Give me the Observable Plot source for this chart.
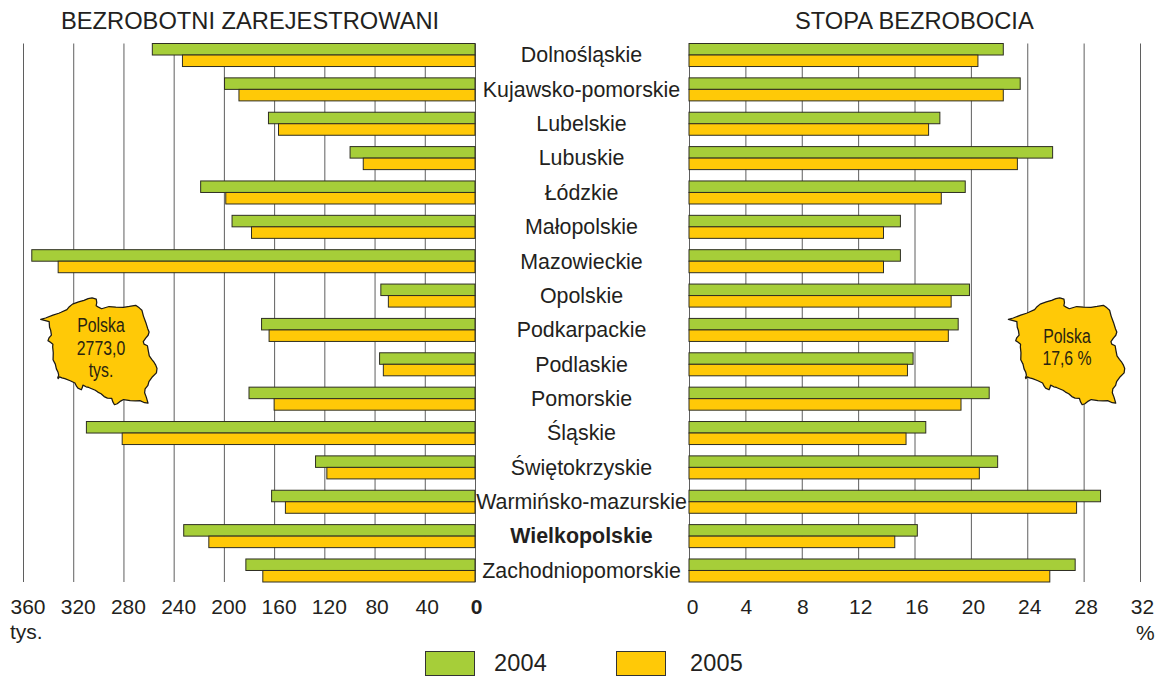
<!DOCTYPE html>
<html><head><meta charset="utf-8">
<script src="https://cdn.jsdelivr.net/npm/d3@7"></script>
<script src="https://cdn.jsdelivr.net/npm/@observablehq/plot@0.6"></script>
<style>
html,body{margin:0;padding:0;background:#fff;}
#page{position:relative;width:1158px;height:676px;overflow:hidden;font-family:"Liberation Sans",Arial,sans-serif;color:#231f20;}
.t{position:absolute;white-space:nowrap;font-size:21px;line-height:24px;}
.sw{position:absolute;top:651px;width:50px;height:25px;border:1px solid #333;box-sizing:border-box;}
.narrow{position:absolute;white-space:nowrap;text-align:center;font-family:"Liberation Sans",sans-serif;font-size:20px;line-height:22.5px;color:#2a2410;transform:translateX(-50%) scaleX(.79);}
</style></head><body><div id="page"></div>
<script>
const regions = ["Dolnośląskie","Kujawsko-pomorskie","Lubelskie","Lubuskie","Łódzkie","Małopolskie","Mazowieckie","Opolskie","Podkarpackie","Podlaskie","Pomorskie","Śląskie","Świętokrzyskie","Warmińsko-mazurskie","Wielkopolskie","Zachodniopomorskie"];
const years = ["2004","2005"];
const unemployed2004 = [257,199.5,164.5,99.5,218.5,193.5,353,75,170,76,180,309.5,127,162,232,182.5];
const unemployed2005 = [233,188,156.5,89,198.5,178,332,69,164,73,160,281,118,151,212,169];
const rate2004 = [22.3,23.5,17.8,25.8,19.6,15.0,15.0,19.9,19.1,15.9,21.3,16.8,21.9,29.2,16.2,27.4];
const rate2005 = [20.5,22.3,17.0,23.3,17.9,13.8,13.8,18.6,18.4,15.5,19.3,15.4,20.6,27.5,14.6,25.6];
const countTicks = [360,320,280,240,200,160,120,80,40,0];
const rateTicks = [0,4,8,12,16,20,24,28,32];
const colors = ["#a6ce39","#ffc907"];
const highlighted = "Wielkopolskie";
const barShare = 0.335; // each bar's share of a row

const long = (a,b) => regions.flatMap((region,i)=>[
  {region,year:years[0],value:a[i],row:i,slot:0},
  {region,year:years[1],value:b[i],row:i,slot:1}
]);
const rowCentre = r => regions.indexOf(r)+barShare;

const shared = {
  height:620, marginTop:43.5, marginBottom:38,
  y:{domain:[0,regions.length-1+2*barShare],axis:null,reverse:true},
  color:{domain:years,range:colors},
  style:{fontFamily:"'Liberation Sans',Arial,sans-serif",background:"transparent",overflow:"visible"}
};
const tickAxis = (ticks,dx,fontWeight="normal") =>
  Plot.axisX({ticks,label:null,tickSize:0,tickPadding:17,fontSize:21,fontWeight,fill:"#231f20",dx,tickFormat:d=>String(d)});
const panelMarks = (rows,ticks,axes)=>[
  Plot.ruleX(ticks,{stroke:"#5f5f5f",strokeWidth:1}),
  Plot.rectX(rows,{x1:()=>0,x2:"value",
    y1:d=>d.row+d.slot*barShare,y2:d=>d.row+(d.slot+1)*barShare,
    fill:"year",stroke:"#2e2e22",strokeWidth:1}),
  ...axes
];

const left = Plot.plot({...shared,width:490,marginLeft:23,marginRight:15,
  x:{domain:[360,0],axis:null},
  marks:panelMarks(long(unemployed2004,unemployed2005),countTicks,[
    tickAxis(countTicks.filter(d=>d>=120),4.5),
    tickAxis(countTicks.filter(d=>d>0&&d<120),2),
    tickAxis([0],1,"bold")
  ])});
left.style.left="0px";

const center = Plot.plot({...shared,width:212,marginLeft:0,marginRight:0,
  x:{domain:[0,1],axis:null},
  marks:[
    Plot.text(regions,{y:rowCentre,text:d=>d,frameAnchor:"middle",fontSize:21.4,fill:"#231f20",filter:d=>d!==highlighted}),
    Plot.text(regions,{y:rowCentre,text:d=>d,frameAnchor:"middle",fontSize:21.4,fontWeight:"bold",fill:"#231f20",filter:d=>d===highlighted})
  ]});
center.style.left="475px";

const right = Plot.plot({...shared,width:479,marginLeft:10,marginRight:18,
  x:{domain:[0,32],axis:null},
  marks:panelMarks(long(rate2004,rate2005),rateTicks,[
    tickAxis([0],3),
    tickAxis([4,8],0.5),
    tickAxis(rateTicks.filter(d=>d>=12),2)
  ])});
right.style.left="679px";

const page=document.getElementById("page");
[left,center,right].forEach(s=>{s.style.position="absolute";s.style.top="0";});

// Poland outline badges (decorative annotation)
const poland="M40.7 317.7l5 -1.5 7.6 -3 6 -2 2.3 -1 6 -2.8 2.5 -3 3.2 -2.7 6.3 -2.3 5.5 -1.7 4.3 -1.7 4 -.8 4.3 1.3 .5 3.7 -.6 3.2 2.3 1.4 3.3 1.7 7.6 -2.3 7 .6 7.6 .2 6.3 -.9 6.4 -1.2 3.7 2.7 2.7 2.4 1.6 6.2 2.4 6.6 2 6.5 1.4 3.5 -1 3.4 -2.5 3 -2.5 3.7 .8 2.6 3.5 1.7 .8 4.7 1.1 5.9 2.5 3.5 2.5 3.3 1.6 2.8 1.3 3.5 -.6 4.6 -4 4 -3.7 5 -1 4 -2.9 3.7 -.5 4 1.7 4.6 1.8 6.3 -3.5 -.5 -4.8 -2.2 -4.7 .4 -5.3 -.3 -3.3 -.6 -3.5 -.6 -3 1.6 -3.5 2.8 -2.8 1 -1.8 -3.2 -1 -3.3 -4.5 -.4 -3.3 -1.6 -3.2 -3 -3.3 -1.7 -2.6 -1.9 -3.7 -1.6 -3 -1.3 -2.7 -.7 -3.3 -1.7 -.7 2.8 -.9 2 -3.5 -1.7 -1.5 -2 -1.6 -3.3 -4.8 -2.4 -5.5 -2.2 -3 -.8 -2.5 -1.1 -1.4 1.8 -.4 -1 1 -2.6 -.8 -3.3 -1.6 -3.2 -1.1 -5 -2.3 -4.5 .2 -7.3 -.6 -6 .2 -3 -2.5 -1.9 -2.5 -1.8 1 -2.8 2.5 -3 -.7 -4.7 -1.2 -3.4 -.4 -5.9 z";
const ns="http://www.w3.org/2000/svg";
const map=document.createElementNS(ns,"svg");
map.setAttribute("width",1158);map.setAttribute("height",676);
map.setAttribute("style","position:absolute;left:0;top:0;");
map.innerHTML=[0,967.7].map(tx=>`<path d="${poland}" transform="translate(${tx+1} 15.1) scale(.975 .958)" fill="#ffc907" stroke="#1d1a14" stroke-width="1.3" stroke-linejoin="round"/>`).join("");

const addText=(cls,txt,css)=>{const e=document.createElement("div");e.className=cls;e.textContent=txt;Object.assign(e.style,css);page.append(e);return e;};

page.append(left,center,right,map);
addText("t","BEZROBOTNI ZAREJESTROWANI",{left:"61px",top:"9px",fontSize:"23.7px"});
addText("t","STOPA BEZROBOCIA",{left:"795px",top:"9px",fontSize:"23.7px"});
addText("t","tys.",{left:"10px",top:"620px"});
addText("t","%",{left:"1136px",top:"621px"});
addText("narrow","Polska",{left:"101px",top:"314px"});
addText("narrow","2773,0",{left:"101px",top:"336.5px"});
addText("narrow","tys.",{left:"101px",top:"359px"});
addText("narrow","Polska",{left:"1067px",top:"324.5px"});
addText("narrow","17,6 %",{left:"1067px",top:"347px"});
[[425,colors[0],494,years[0]],[616,colors[1],690,years[1]]].forEach(([sx,c,tx,y])=>{
  const s=document.createElement("div");s.className="sw";s.style.left=sx+"px";s.style.background=c;page.append(s);
  addText("t",y,{left:tx+"px",top:"652.5px",fontSize:"23.5px",lineHeight:"20px",letterSpacing:".15px"});
});
</script></body></html>
